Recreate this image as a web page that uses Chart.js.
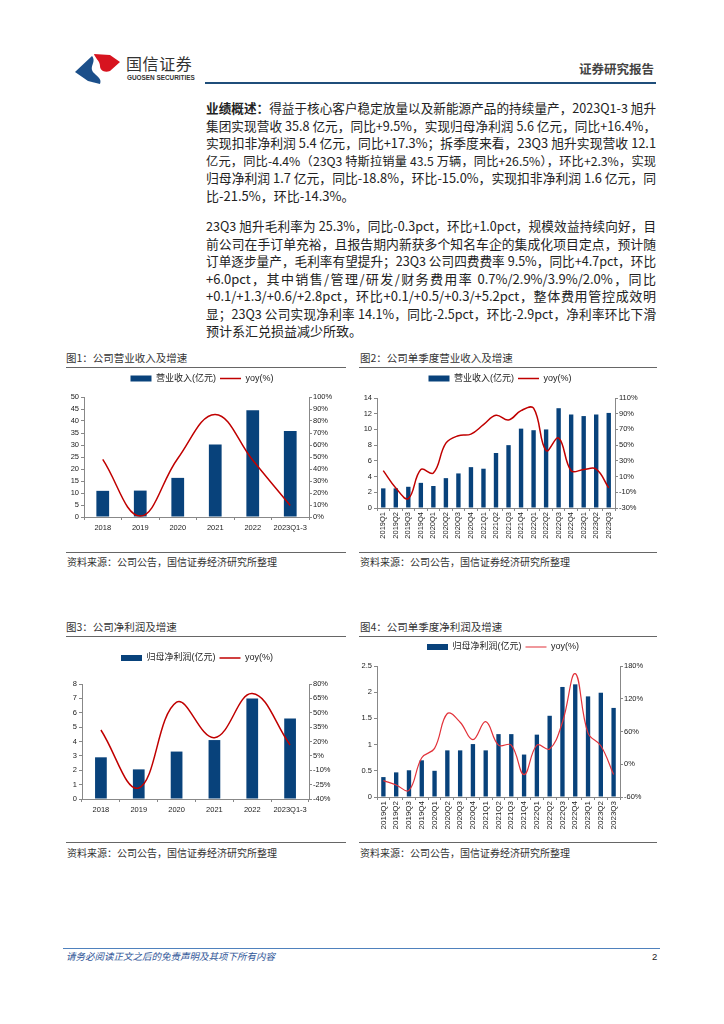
<!DOCTYPE html>
<html>
<head>
<meta charset="utf-8">
<script src="https://cdn.jsdelivr.net/npm/chart.js@4.4.0/dist/chart.umd.min.js"></script>
<style>
  body { margin: 0; width: 724px; height: 1024px; position: relative; background: #fff; overflow: hidden;
         font-family: "Noto Sans CJK SC", sans-serif; color: #222; }
  .abs { position: absolute; }
  .ln { position: absolute; left: 206px; width: 450px; font-size: 13px; line-height: 18px;
        text-align: justify; text-align-last: justify; }
  .ln.last { text-align-last: left; }
  .ttl { position: absolute; font-size: 10.5px; line-height: 14px; color: #333; }
  .src { position: absolute; font-size: 10px; line-height: 14px; color: #333; }
  .rule { position: absolute; height: 1px; background: #666; }
  .box { position: absolute; }
</style>
</head>
<body>

<!-- header -->
<svg class="abs" style="left:0;top:0" width="724" height="100">
  <path d="M75,72 L92,56 C97,62 88,67 94,73 C98,77 102,79 100,84 L88,81 Z" fill="#1B4F8A"/>
  <path d="M94,54 L110,55 L120,62 L110,71 C104,73 100,70 100,66 C100,61 95,58 94,54 Z" fill="#D7141F"/>
</svg>
<div class="abs" style="left:126px;top:53px;font-size:16px;line-height:20px;color:#333;letter-spacing:0.6px">国信证券</div>
<div class="abs" style="left:127px;top:74px;font-family:'Liberation Sans',sans-serif;font-size:6.4px;line-height:8px;font-weight:bold;color:#333">GUOSEN SECURITIES</div>
<div class="abs" style="left:579px;top:61px;font-size:12.5px;line-height:16px;font-weight:bold;color:#444">证券研究报告</div>
<div class="abs" style="left:205px;top:82px;width:451px;height:2px;background:#1F4E7A"></div>

<!-- body text -->
<div class="ln" style="top:99px"><b>业绩概述：</b>得益于核心客户稳定放量以及新能源产品的持续量产，2023Q1-3 旭升</div>
<div class="ln" style="top:116.5px">集团实现营收 35.8 亿元，同比+9.5%，实现归母净利润 5.6 亿元，同比+16.4%，</div>
<div class="ln" style="top:134px">实现扣非净利润 5.4 亿元，同比+17.3%；拆季度来看，23Q3 旭升实现营收 12.1</div>
<div class="ln" style="top:151.5px">亿元，同比-4.4%（23Q3 特斯拉销量 43.5 万辆，同比+26.5%），环比+2.3%，实现</div>
<div class="ln" style="top:169px">归母净利润 1.7 亿元，同比-18.8%，环比-15.0%，实现扣非净利润 1.6 亿元，同</div>
<div class="ln last" style="top:186.5px">比-21.5%，环比-14.3%。</div>

<div class="ln" style="top:217px">23Q3 旭升毛利率为 25.3%，同比-0.3pct，环比+1.0pct，规模效益持续向好，目</div>
<div class="ln" style="top:234.5px">前公司在手订单充裕，且报告期内新获多个知名车企的集成化项目定点，预计随</div>
<div class="ln" style="top:252px">订单逐步量产，毛利率有望提升；23Q3 公司四费费率 9.5%，同比+4.7pct，环比</div>
<div class="ln" style="top:269.5px">+6.0pct，其中销售/管理/研发/财务费用率 0.7%/2.9%/3.9%/2.0%，同比</div>
<div class="ln" style="top:287px">+0.1/+1.3/+0.6/+2.8pct，环比+0.1/+0.5/+0.3/+5.2pct，整体费用管控成效明</div>
<div class="ln" style="top:304.5px">显；23Q3 公司实现净利率 14.1%，同比-2.5pct，环比-2.9pct，净利率环比下滑</div>
<div class="ln last" style="top:322px">预计系汇兑损益减少所致。</div>

<!-- figure titles and rules -->
<div class="ttl" style="left:66px;top:351px">图1：公司营业收入及增速</div>
<div class="rule" style="left:66px;top:367px;width:280px"></div>
<div class="ttl" style="left:360px;top:351px">图2：公司单季度营业收入及增速</div>
<div class="rule" style="left:359px;top:367px;width:298px"></div>
<div class="rule" style="left:66px;top:552px;width:280px"></div>
<div class="src" style="left:67px;top:555px">资料来源：公司公告，国信证券经济研究所整理</div>
<div class="rule" style="left:359px;top:552px;width:298px"></div>
<div class="src" style="left:360px;top:555px">资料来源：公司公告，国信证券经济研究所整理</div>

<div class="ttl" style="left:66px;top:620px">图3：公司净利润及增速</div>
<div class="rule" style="left:66px;top:636px;width:280px"></div>
<div class="ttl" style="left:360px;top:620px">图4：公司单季度净利润及增速</div>
<div class="rule" style="left:359px;top:636px;width:298px"></div>
<div class="rule" style="left:66px;top:842px;width:280px"></div>
<div class="src" style="left:67px;top:846px">资料来源：公司公告，国信证券经济研究所整理</div>
<div class="rule" style="left:359px;top:842px;width:298px"></div>
<div class="src" style="left:360px;top:846px">资料来源：公司公告，国信证券经济研究所整理</div>

<!-- charts -->
<div class="box" style="left:60px;top:369px;width:290px;height:175px"><canvas id="c1"></canvas></div>
<div class="box" style="left:355px;top:369px;width:305px;height:180px"><canvas id="c2"></canvas></div>
<div class="box" style="left:60px;top:640px;width:290px;height:180px"><canvas id="c3"></canvas></div>
<div class="box" style="left:355px;top:636px;width:305px;height:205px"><canvas id="c4"></canvas></div>

<!-- footer -->
<div class="abs" style="left:63px;top:948px;width:597px;height:1px;background:#4F81BD"></div>
<div class="abs" style="left:66px;top:950px;font-size:9.5px;line-height:13px;font-style:italic;color:#2F5597">请务必阅读正文之后的免责声明及其项下所有内容</div>
<div class="abs" style="left:652px;top:950px;font-family:'Liberation Sans',sans-serif;font-size:9.5px;line-height:13px;color:#222">2</div>

<script>
// ---- data ----
const years = ['2018', '2019', '2020', '2021', '2022', '2023Q1-3'];
const quarters = ['2019Q1', '2019Q2', '2019Q3', '2019Q4', '2020Q1', '2020Q2', '2020Q3', '2020Q4',
                  '2021Q1', '2021Q2', '2021Q3', '2021Q4', '2022Q1', '2022Q2', '2022Q3', '2022Q4',
                  '2023Q1', '2023Q2', '2023Q3'];

const revenueYear = [10.9, 11.0, 16.3, 30.2, 44.5, 35.8];
const revenueYearYoy = [48, 0.8, 48.8, 85.5, 47.3, 9.5];

const revenueQtr = [2.5, 2.5, 2.7, 3.2, 2.8, 3.8, 4.4, 5.2, 5.0, 7.0, 8.0, 10.1, 9.9, 10.0, 12.7, 11.9, 11.7, 11.9, 12.1];
const revenueQtrYoy = [17.5, -4.5, -18, 19, 14.5, 52.5, 62, 64, 76, 88, 82, 94, 97, 43, 59, 17.5, 19, 19.5, -4.4];

const profitYear = [2.9, 2.06, 3.3, 4.1, 7.0, 5.6];
const profitYearYoy = [32, -28.5, 61, 24, 70, 16.4];

const profitQtr = [0.38, 0.47, 0.51, 0.70, 0.50, 0.89, 0.89, 1.01, 0.89, 1.20, 1.20, 0.81, 1.19, 1.55, 2.10, 2.15, 1.92, 1.99, 1.70];
const profitQtrYoy = [-30, -38, -48, 12, 29, 93, 77, 45, 78, 35, 35, -19, 35, 28, 77, 166, 57, 34, -18.8];

// tick labels
const ticksRevYear = [0, 5, 10, 15, 20, 25, 30, 35, 40, 45, 50];
const ticksRevYearPct = [0, 10, 20, 30, 40, 50, 60, 70, 80, 90, 100];
const ticksRevQtr = [0, 2, 4, 6, 8, 10, 12, 14];
const ticksRevQtrPct = [-30, -10, 10, 30, 50, 70, 90, 110];
const ticksProfitYear = [0, 1, 2, 3, 4, 5, 6, 7, 8];
const ticksProfitYearPct = [-40, -25, -10, 5, 20, 35, 50, 65, 80];
const ticksProfitQtr = [0, 0.5, 1, 1.5, 2, 2.5];
const ticksProfitQtrPct = [-60, 0, 60, 120, 180];

// ---- body text fit ----
document.querySelectorAll('.ln').forEach(el => {
  let fs = 13;
  while (el.offsetHeight > 19 && fs > 9) {
    fs -= 0.2;
    el.style.fontSize = fs + 'px';
  }
});

// ---- charts ----
const BLUE = '#08427B';
const FONT = "'Liberation Sans', 'Noto Sans CJK SC', sans-serif";
const AXIS = '#888';

// extra space between legend and plot
function legendGap(extra) {
  return {
    id: 'legendGap',
    beforeInit(chart) {
      const fit = chart.legend.fit;
      chart.legend.fit = function () {
        fit.bind(chart.legend)();
        this.height += extra;
      };
    }
  };
}

function combo(id, c) {
  const fixTicks = arr => s => { s.ticks = arr.map(v => ({ value: v })); };
  return new Chart(document.getElementById(id), {
    type: 'bar',
    data: {
      labels: c.labels,
      datasets: [
        {
          type: 'bar', label: c.barName, data: c.bars, backgroundColor: BLUE, borderWidth: 0,
          yAxisID: 'y', order: 2, categoryPercentage: 1, barPercentage: c.barPct, pointStyle: 'rect'
        },
        {
          type: 'line', label: 'yoy(%)', data: c.yoy, borderColor: c.lineColor, backgroundColor: c.lineColor,
          borderWidth: c.lineWidth, pointRadius: 0, tension: 0.4, yAxisID: 'y1', order: 1, pointStyle: 'line'
        }
      ]
    },
    options: {
      responsive: true,
      maintainAspectRatio: false,
      animation: false,
      layout: { padding: { top: c.top, left: 0, right: c.right, bottom: 0 } },
      plugins: {
        tooltip: { enabled: false },
        legend: {
          position: 'top',
          labels: {
            usePointStyle: true, pointStyleWidth: 21, boxHeight: 6, padding: 4,
            color: '#222', font: { family: FONT, size: 9 },
            sort: (a, b) => a.datasetIndex - b.datasetIndex
          }
        }
      },
      scales: {
        x: {
          grid: { drawOnChartArea: false, tickLength: 3, color: AXIS, offset: true },
          border: { color: AXIS },
          ticks: {
            color: '#222', font: { family: FONT, size: c.xFont }, padding: c.xPad,
            autoSkip: false, maxRotation: c.rot, minRotation: c.rot
          },
          afterFit: s => { s.height = c.xh; }
        },
        y: {
          position: 'left', min: c.yTicks[0], max: c.yTicks[c.yTicks.length - 1],
          afterBuildTicks: fixTicks(c.yTicks),
          grid: { drawOnChartArea: false, tickLength: 3, color: AXIS },
          border: { color: AXIS },
          ticks: { color: '#222', font: { family: FONT, size: 7.5 }, padding: 2, callback: v => String(v) },
          afterFit: s => { s.width = c.yw; }
        },
        y1: {
          position: 'right', min: c.pTicks[0], max: c.pTicks[c.pTicks.length - 1],
          afterBuildTicks: fixTicks(c.pTicks),
          grid: { drawOnChartArea: false, tickLength: 3, color: AXIS },
          border: { color: AXIS },
          ticks: { color: '#222', font: { family: FONT, size: 7.5 }, padding: 1, callback: v => v + '%' },
          afterFit: s => { s.width = c.pw; }
        }
      }
    },
    plugins: [legendGap(c.gap)]
  });
}

combo('c1', {
  labels: years, barName: '营业收入(亿元)', bars: revenueYear, yoy: revenueYearYoy,
  yTicks: ticksRevYear, pTicks: ticksRevYearPct, barPct: 0.34, lineColor: '#C00000', lineWidth: 1.5,
  top: 1, right: 6, gap: 4, xh: 27, yw: 24, pw: 35, xFont: 7.5, xPad: 3, rot: 0
});
combo('c2', {
  labels: quarters, barName: '营业收入(亿元)', bars: revenueQtr, yoy: revenueQtrYoy,
  yTicks: ticksRevQtr, pTicks: ticksRevQtrPct, barPct: 0.35, lineColor: '#C00000', lineWidth: 1.5,
  top: 1, right: 15, gap: 5, xh: 41, yw: 22, pw: 30, xFont: 7.5, xPad: 1, rot: 90
});
combo('c3', {
  labels: years, barName: '归母净利润(亿元)', bars: profitYear, yoy: profitYearYoy,
  yTicks: ticksProfitYear, pTicks: ticksProfitYearPct, barPct: 0.31, lineColor: '#C00000', lineWidth: 1.5,
  top: 9.5, right: 16, gap: 11.5, xh: 21, yw: 22, pw: 25, xFont: 7.5, xPad: 3, rot: 0
});
combo('c4', {
  labels: quarters, barName: '归母净利润(亿元)', bars: profitQtr, yoy: profitQtrYoy,
  yTicks: ticksProfitQtr, pTicks: ticksProfitQtrPct, barPct: 0.34, lineColor: '#E2323A', lineWidth: 1.2,
  top: 2.5, right: 9, gap: 4.5, xh: 44, yw: 22, pw: 31, xFont: 8, xPad: 1, rot: 90
});
</script>
</body>
</html>
